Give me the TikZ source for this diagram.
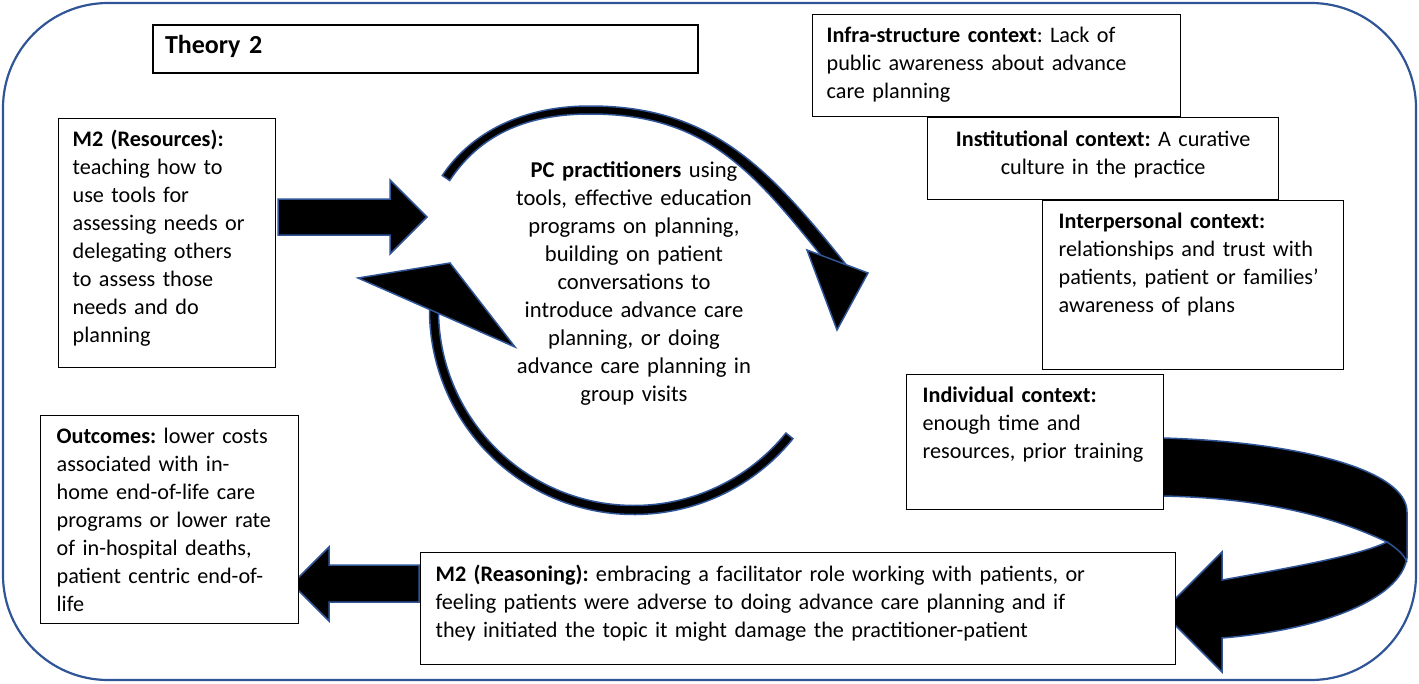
\documentclass[tikz,border=0pt]{standalone}
\usepackage{fontspec}
\setmainfont{Carlito}
\usetikzlibrary{calc}
\definecolor{frameblue}{RGB}{47,85,151}
\frenchspacing
\begin{document}
\begin{tikzpicture}[x=1pt,y=-1pt,
  fs/.style={font=\fontsize{22.2}{28}\selectfont},
  cbox/.style={fs, draw=black, line width=1.3pt, fill=white, inner xsep=14pt, inner ysep=14pt,
    text height=14pt, align=left, anchor=north west},
  arrowfill/.style={fill=black, draw=frameblue, line width=1.5pt, line join=miter},
  ctext/.style={font=\fontsize{22.6}{28}\selectfont, align=center, anchor=north, inner sep=0pt, text height=14pt, text width=330pt}
]
\useasboundingbox (0,0) rectangle (1419,683);
% outer frame
\draw[frameblue, line width=2.2pt, rounded corners=105pt] (3,3) rectangle (1416,680);

% U-turn arrow
\filldraw[arrowfill] (1163,438) .. controls (1300,442) and (1407,470) .. (1407,512)
  -- (1407,558) .. controls (1400,600) and (1320,630) .. (1222,638)
  -- (1222,672) -- (1162,612) -- (1222,552) -- (1222,580)
  .. controls (1300,566) and (1360,555) .. (1387,542)
  .. controls (1330,515) and (1260,498) .. (1163,496) -- cycle;
\draw[frameblue, line width=1.5pt] (1387,542) .. controls (1398,549) and (1404,555) .. (1407,562);

% block arrows
\filldraw[arrowfill] (278,199) -- (390,199) -- (390,180) -- (427,217) -- (390,254) -- (390,235) -- (278,235) -- cycle;
\filldraw[arrowfill] (419,565) -- (329,565) -- (329,547) -- (292,584) -- (329,621) -- (329,602) -- (419,602) -- cycle;

% top circular arrow (tapered band)
\filldraw[arrowfill] (442.3,175.5) .. controls (467.1,138.1) and (515,106) .. (590,106)
  .. controls (710,106) and (767.5,165.7) .. (848.5,267.7)
  -- (837.5,276.3) .. controls (756.5,174.3) and (710,114) .. (590,114)
  .. controls (515,114) and (474.5,143.1) .. (449.7,180.5) -- cycle;
\filldraw[arrowfill] (807,250) -- (837,330) -- (868,273) -- cycle;

% bottom circular arrow
\coordinate (c2) at (634,310);
\filldraw[arrowfill] ($(c2)+(39:204.5)$) arc[start angle=39, end angle=182, radius=204.5]
  -- ($(c2)+(182:195.5)$) arc[start angle=182, end angle=39, radius=195.5] -- cycle;
\filldraw[arrowfill] (358,278) -- (450,263) -- (515,347) -- cycle;

% boxes
\node[cbox, line width=2pt, font=\fontsize{26}{30}\selectfont\bfseries, inner xsep=12pt, inner ysep=11pt,
  text height=17pt, text depth=9pt, text width=521pt] (theory) at (152,24) {Theory 2};
\node[cbox, text width=189pt, text depth=207pt] (res) at (58,118)
  {\textbf{M2 (Resources):}\\ teaching how to\\ use tools for\\ assessing needs or\\ delegating others\\ to assess those\\ needs and do\\ planning};
\node[cbox, text width=340pt, text depth=60pt] (infra) at (812,14)
  {\textbf{Infra-structure context}: Lack of\\ public awareness about advance\\ care planning};
\node[cbox, align=center, text width=323pt, text depth=38pt, inner ysep=15pt] (inst) at (927,117)
  {\textbf{Institutional context:} A curative\\ culture in the practice};
\node[cbox, inner xsep=16pt, text width=269pt, text depth=127pt] (inter) at (1042,200)
  {\textbf{Interpersonal context:}\\ relationships and trust with\\ patients, patient or families’\\ awareness of plans};
\node[cbox, inner xsep=16pt, text width=225pt, text depth=93pt] (indiv) at (906,374)
  {\textbf{Individual context:}\\ enough time and\\ resources, prior training};
\node[cbox, inner xsep=16pt, text width=226pt, text depth=166pt] (out) at (40,415)
  {\textbf{Outcomes:} lower costs\\ associated with in-\\ home end-of-life care\\ programs or lower rate\\ of in-hospital deaths,\\ patient centric end-of-\\ life};
\node[cbox, inner xsep=15pt, text width=725pt, text depth=68pt, inner ysep=15pt] (reas) at (420,552)
  {\textbf{M2 (Reasoning):} embracing a facilitator role working with patients, or\\ feeling patients were adverse to doing advance care planning and if\\ they initiated the topic it might damage the practitioner-patient};

% centre text
\node[ctext] (pc) at (634,163)
  {\textbf{PC practitioners} using\\ tools, effective education\\ programs on planning,\\ building on patient\\ conversations to\\ introduce advance care\\ planning, or doing\\ advance care planning in\\ group visits};
\end{tikzpicture}
\end{document}
